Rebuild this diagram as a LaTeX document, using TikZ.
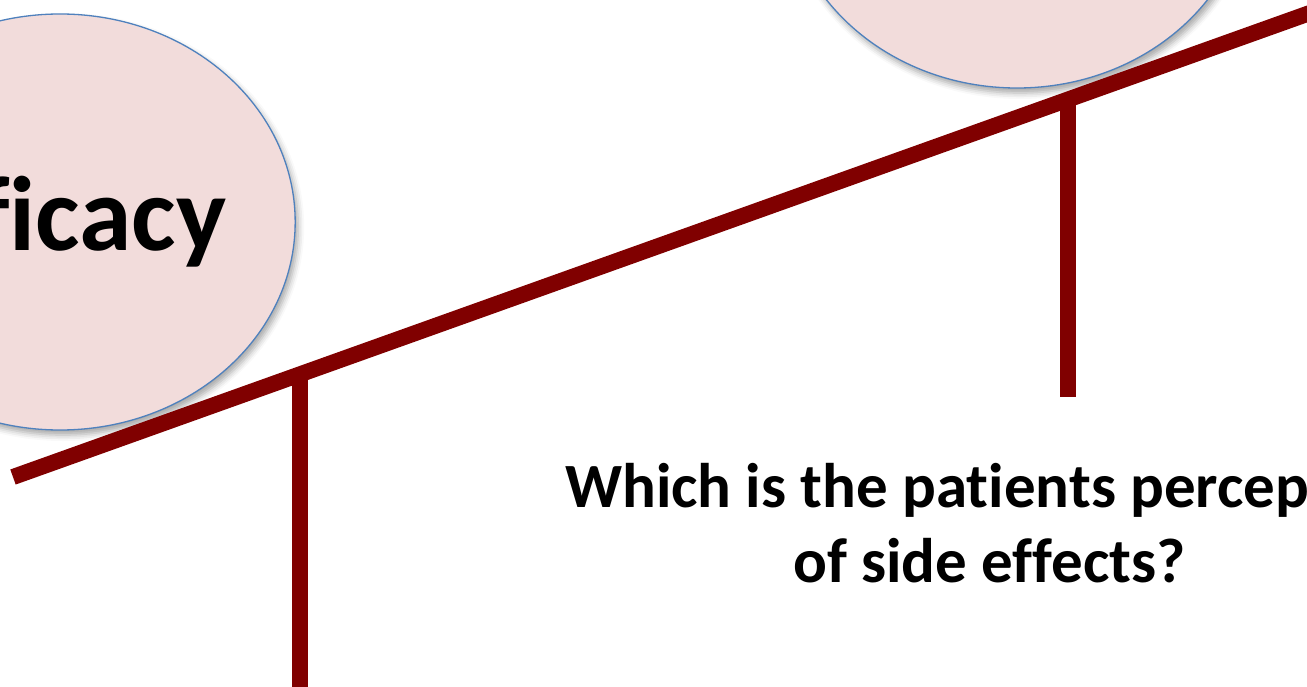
\documentclass[tikz,border=0pt]{standalone}
\usepackage{fontspec}
\setmainfont{Carlito}[Ligatures={NoCommon}]
\usetikzlibrary{shapes.geometric,shadows.blur}
\definecolor{pinkfill}{HTML}{F2DCDB}
\definecolor{blueedge}{HTML}{4F81BD}
\definecolor{beamred}{HTML}{800000}
\tikzset{
  weight/.style={ellipse, draw=blueedge, line width=1.3pt, fill=pinkfill,
    minimum width=466pt, minimum height=416pt, inner sep=0pt,
    blur shadow={shadow xshift=3pt, shadow yshift=-5pt, shadow blur radius=6pt, shadow opacity=35},
    font=\bfseries\fontsize{106}{127}\selectfont},
  bar/.style={draw=beamred, line width=16pt, line cap=butt},
  question/.style={align=center, font=\bfseries\fontsize{63}{75}\selectfont}
}
\begin{document}
\begin{tikzpicture}[x=1pt,y=-1pt]
\useasboundingbox (0,0) rectangle (1307,687);
\clip (0,0) rectangle (1307,687);
\node[weight] (eff) at (60,222) {Efficacy};
\node[weight] (side) at (1017,-120) {};
\coordinate (p1top) at (300,370);
\coordinate (p1bot) at (300,700);
\coordinate (p2top) at (1068,96);
\coordinate (p2bot) at (1068,397);
\coordinate (bl) at (13,477);
\coordinate (br) at (1340,2.2);
\draw[bar] (p1top) -- (p1bot);
\draw[bar] (p2top) -- (p2bot);
\draw[bar] (bl) -- (br);
\node[question, anchor=base] (q) at (989.5,582) {Which is the patients perception\\of side effects?};
\end{tikzpicture}
\end{document}
